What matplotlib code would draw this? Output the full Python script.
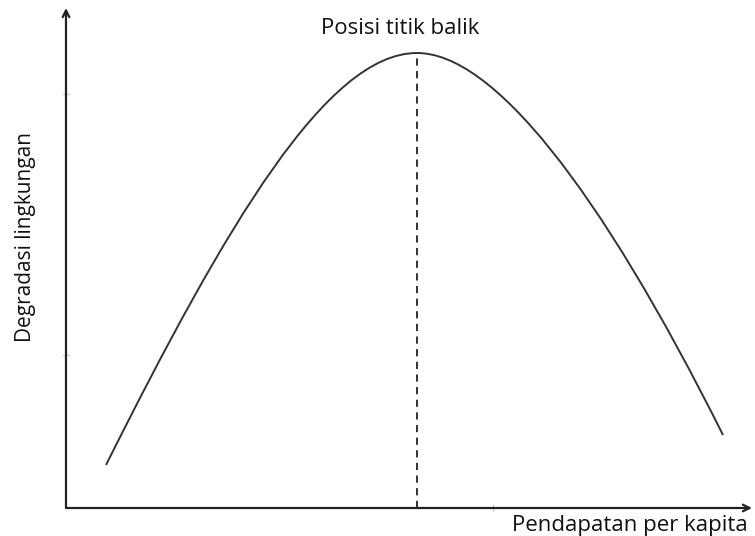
import numpy as np
import matplotlib.pyplot as plt
from matplotlib.path import Path
from matplotlib.patches import PathPatch

# curve (income, degradation), arbitrary units.
# two cubic pieces: start -> turning point -> end, with their control points
curve_x = [40, 160, 261, 351, 426, 532, 657]
curve_y = [43, 283, 455, 455, 455, 323, 73]
turning_point = 351
peak_value = 455
y_ticks = [153, 414]
x_ticks = [427]

fig = plt.figure(figsize=(7.55, 5.36), dpi=100)
ax = fig.add_axes([66 / 755, 28 / 536, (752 - 66) / 755, (508 - 8) / 536])
ax.set_xlim(0, 686)
ax.set_ylim(0, 500)
for s in ax.spines.values():
    s.set_visible(False)
ax.set_xticks([])
ax.set_yticks([])

# axes with arrows
ax.annotate('', xy=(1.0, 0), xytext=(0, 0), xycoords='axes fraction',
            arrowprops=dict(arrowstyle='->', color='#222222', lw=1.6,
                            shrinkA=0, shrinkB=0, mutation_scale=12))
ax.annotate('', xy=(0, 1.0), xytext=(0, 0), xycoords='axes fraction',
            arrowprops=dict(arrowstyle='->', color='#222222', lw=1.6,
                            shrinkA=0, shrinkB=0, mutation_scale=12))

# faint ticks
for yt in y_ticks:
    ax.plot([-3, 3], [yt, yt], color='#cccccc', lw=0.8, clip_on=False)
for xt in x_ticks:
    ax.plot([xt, xt], [-3, 3], color='#cccccc', lw=0.8, clip_on=False)

codes = [Path.MOVETO] + [Path.CURVE4] * 6
path = Path(np.column_stack([curve_x, curve_y]), codes)
ax.add_patch(PathPatch(path, facecolor='none', edgecolor='#333333', lw=1.4))

ax.plot([turning_point, turning_point], [0, peak_value], color='#222222',
        lw=1.3, ls=(0, (4, 3)))

font = 'Open Sans'
ax.text(334, 479, 'Posisi titik balik', ha='center', va='center',
        fontsize=16, family=font, color='#111111')
fig.text(748 / 755, 1 - 525 / 536, 'Pendapatan per kapita', ha='right',
         va='center', fontsize=16, family=font, color='#111111')
fig.text(26 / 755, 1 - 237 / 536, 'Degradasi lingkungan', ha='center',
         va='center', rotation=90, fontsize=15, family=font, color='#111111')

fig.savefig('out.png', dpi=100, facecolor='white')
